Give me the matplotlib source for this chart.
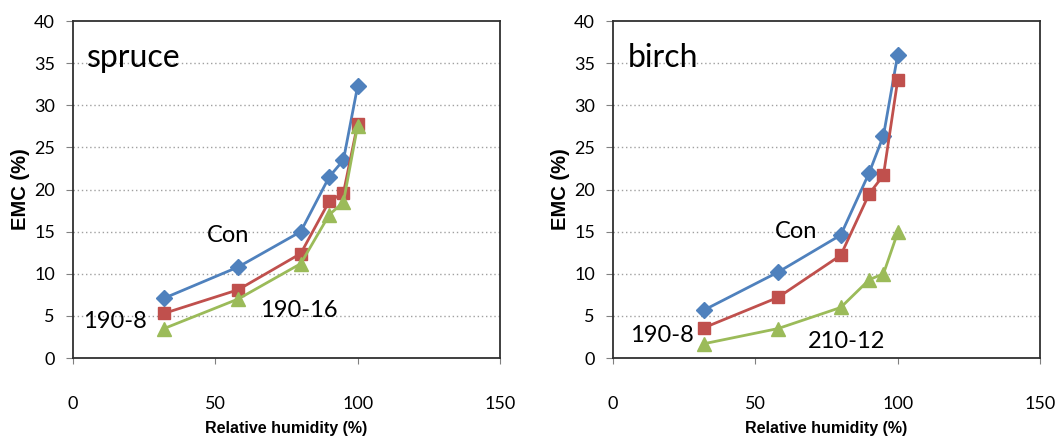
import numpy as np
import matplotlib
matplotlib.use("Agg")
import matplotlib.pyplot as plt
from matplotlib import font_manager

# ==========================
# data
# ==========================
rh = [32, 58, 80, 90, 95, 100]

spruce_con = [7.1, 10.8, 15.0, 21.5, 23.5, 32.3]
spruce_190_8 = [5.3, 8.1, 12.4, 18.6, 19.6, 27.8]
spruce_190_16 = [3.5, 7.0, 11.2, 17.0, 18.5, 27.6]

birch_con = [5.7, 10.2, 14.6, 22.0, 26.4, 36.0]
birch_190_8 = [3.6, 7.2, 12.2, 19.5, 21.7, 33.0]
birch_210_12 = [1.7, 3.5, 6.0, 9.3, 10.0, 14.9]

x_ticks = [0, 50, 100, 150]
y_ticks = [0, 5, 10, 15, 20, 25, 30, 35, 40]

blue = "#4F81BD"
red = "#C0504D"
green = "#9BBB59"

label_font = ["Lato", "DejaVu Sans"]

# 窄体粗字 (如果有的话)
names = {f.name for f in font_manager.fontManager.ttflist}
if "Liberation Sans Narrow" in names:
    xlab_font, xlab_size = "Liberation Sans Narrow", 13.5
else:
    xlab_font, xlab_size = "Liberation Sans", 11.5

fig = plt.figure(figsize=(10.56, 4.42), dpi=100)

ax1 = fig.add_axes([0.0691, 0.19, 0.4044, 0.7624])
ax2 = fig.add_axes([0.5805, 0.19, 0.4044, 0.7624])


def draw_panel(ax, series, title, labels):
    # 画三条曲线
    for y, c, m, ms in series:
        ax.plot(rh, y, color=c, marker=m, markersize=ms, linewidth=2.0,
                markeredgecolor=c, zorder=3)

    ax.set_xlim(0, 150)
    ax.set_ylim(0, 40)
    ax.set_xticks(x_ticks)
    ax.set_yticks(y_ticks)

    # 虚线网格
    for v in y_ticks[1:-1]:
        ax.axhline(v, color="#A0A0A0", linestyle=(0, (1, 2)), linewidth=1.0,
                   zorder=1)

    for sp in ax.spines.values():
        sp.set_color("#303030")
        sp.set_linewidth(1.3)

    ax.tick_params(axis="y", direction="out", length=5, color="#808080",
                   pad=8, labelsize=13)
    ax.tick_params(axis="x", direction="out", length=4, color="#808080",
                   pad=23, labelsize=13)
    for t in ax.get_xticklabels() + ax.get_yticklabels():
        t.set_family(label_font)

    ax.set_xlabel("Relative humidity (%)", family=xlab_font,
                  fontweight="bold", fontsize=xlab_size, labelpad=7)
    ax.set_ylabel("EMC (%)", family="Liberation Sans",
                  fontweight="bold", fontsize=14.5, labelpad=3)

    ax.text(title[1], title[2], title[0], family=label_font, fontsize=23,
            va="baseline", ha="left")
    for s, x, y in labels:
        ax.text(x, y, s, family=label_font, fontsize=17, va="baseline",
                ha="left")


draw_panel(
    ax1,
    [(spruce_con, blue, "D", 8.5),
     (spruce_190_8, red, "s", 8.5),
     (spruce_190_16, green, "^", 9.5)],
    ("spruce", 4.9, 34.5),
    [("Con", 47, 13.8), ("190-8", 3.5, 3.6), ("190-16", 65.7, 4.9)],
)

draw_panel(
    ax2,
    [(birch_con, blue, "D", 8.5),
     (birch_190_8, red, "s", 8.5),
     (birch_210_12, green, "^", 9.5)],
    ("birch", 5.3, 34.5),
    [("Con", 56.9, 14.2), ("190-8", 6.0, 1.9), ("210-12", 68.5, 1.2)],
)

fig.savefig("out.png", dpi=100)
